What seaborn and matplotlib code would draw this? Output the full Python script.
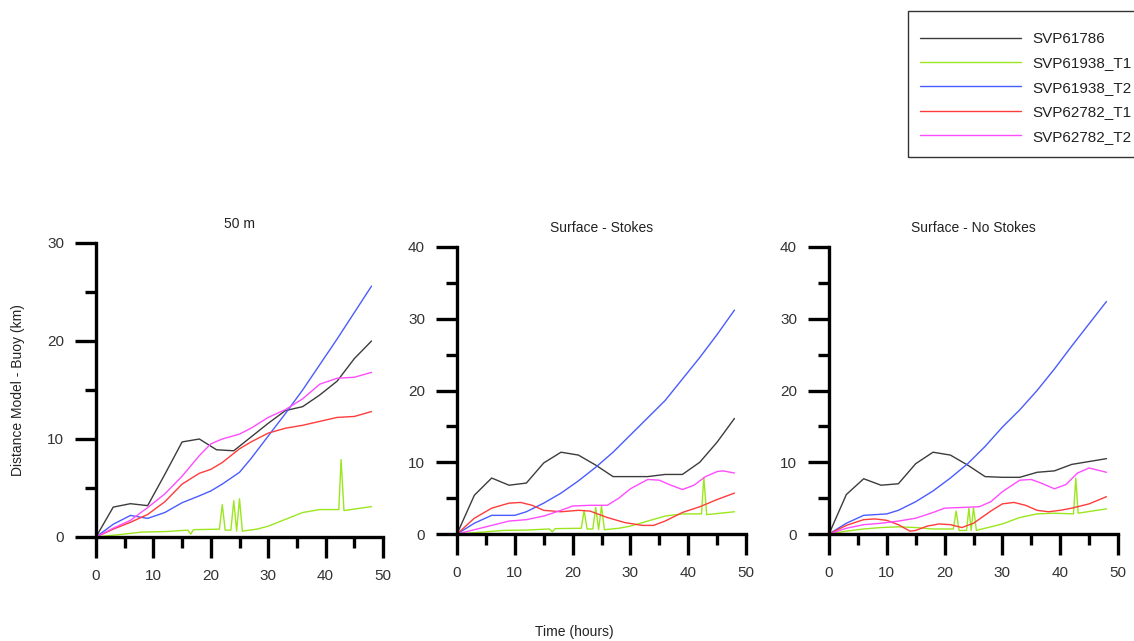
import numpy as np
import pandas as pd
import seaborn as sns
import matplotlib.pyplot as plt
from matplotlib.patches import Rectangle
from matplotlib.lines import Line2D
from matplotlib.ticker import MultipleLocator

# ---- data ----
series_names = ["SVP61786", "SVP61938_T1", "SVP61938_T2", "SVP62782_T1", "SVP62782_T2"]
series_colors = ["#3c3c3c", "#9be61e", "#4a5cff", "#ff3b3b", "#ff4cff"]
panel_titles = ["50 m", "Surface - Stokes", "Surface - No Stokes"]
panel_ymax = [30, 40, 40]

t_black = [0, 3, 6, 9, 12, 15, 18, 21, 24, 27, 30, 33, 36, 39, 42, 45, 48]
t_smooth = [0, 3, 6, 9, 12, 15, 18, 20, 22, 25, 27, 30, 33, 36, 39, 42, 45, 48]

# green buoy has glitches (spikes) in the track
t_green = [0, 5, 8, 12, 16, 16.5, 17, 21.5, 22, 22.5, 23.5, 24, 24.5, 25, 25.5,
           28, 30, 33, 36, 39, 42.3, 42.7, 43.2, 48]
green_a = [0, 0.3, 0.5, 0.55, 0.7, 0.3, 0.75, 0.8, 3.3, 0.7, 0.7, 3.7, 0.6, 3.9, 0.6,
           0.8, 1.1, 1.8, 2.5, 2.8, 2.8, 7.9, 2.7, 3.1]
t_green_c = [0, 3, 6, 9, 12, 15, 18, 21.5, 22, 22.5, 23.8, 24.2, 24.6, 25, 25.5,
             28, 30, 33, 36, 39, 42.3, 42.7, 43.1, 48]
green_c = [0, 0.4, 0.7, 0.9, 1.0, 0.9, 0.7, 0.7, 3.2, 0.5, 0.5, 3.6, 0.5, 3.7, 0.5,
           1.0, 1.4, 2.3, 2.8, 2.9, 2.8, 7.8, 2.9, 3.5]

# panel 1: 50 m
p1_black = [0, 3.05, 3.4, 3.2, 6.4, 9.7, 10.0, 8.9, 8.8, 10.2, 11.6, 12.9, 13.3, 14.5, 15.9, 18.2, 20.0]
p1_blue = [0, 1.3, 2.2, 1.9, 2.5, 3.5, 4.2, 4.7, 5.4, 6.6, 8.0, 10.3, 12.6, 15.0, 17.6, 20.2, 22.9, 25.6]
p1_red = [0, 0.8, 1.5, 2.3, 3.6, 5.4, 6.5, 6.9, 7.6, 9.0, 9.7, 10.6, 11.1, 11.4, 11.8, 12.2, 12.3, 12.8]
p1_magenta = [0, 0.9, 1.7, 3.0, 4.4, 6.2, 8.3, 9.5, 10.0, 10.5, 11.1, 12.2, 13.0, 14.1, 15.6, 16.2, 16.3, 16.8]

# panel 2: surface with Stokes drift
p2_black = [0, 5.4, 7.8, 6.8, 7.1, 9.9, 11.4, 11.0, 9.6, 8.0, 8.0, 8.0, 8.3, 8.3, 10.0, 12.8, 16.1]
t_p2_blue = [0, 3, 6, 10, 12, 15, 18, 21, 24, 27, 30, 33, 36, 39, 42, 45, 48]
p2_blue = [0, 1.5, 2.6, 2.6, 3.1, 4.3, 5.7, 7.4, 9.3, 11.4, 13.8, 16.2, 18.6, 21.6, 24.6, 27.8, 31.2]
t_p2_red = [0, 3, 6, 9, 11, 13, 15, 18, 21, 23, 26, 29, 32, 34, 36, 39, 42, 45, 48]
p2_red = [0, 2.2, 3.6, 4.3, 4.4, 4.0, 3.3, 3.1, 3.3, 3.2, 2.3, 1.6, 1.2, 1.2, 1.8, 3.0, 3.8, 4.8, 5.7]
t_p2_mag = [0, 3, 6, 9, 12, 15, 18, 20, 23, 26, 28, 30, 33, 35, 37, 39, 41, 43, 45, 46, 48]
p2_magenta = [0, 0.6, 1.2, 1.8, 2.0, 2.5, 3.3, 3.9, 4.0, 4.0, 5.0, 6.3, 7.6, 7.5, 6.8, 6.2, 6.8, 8.0, 8.7, 8.8, 8.5]

# panel 3: surface without Stokes drift
p3_black = [0, 5.5, 7.7, 6.8, 7.0, 9.8, 11.4, 11.0, 9.6, 8.0, 7.9, 7.9, 8.6, 8.8, 9.7, 10.1, 10.5]
p3_blue = [0, 1.5, 2.6, 2.8, 3.3, 4.5, 6.0, 7.8, 9.8, 12.2, 14.9, 17.3, 20.0, 23.0, 26.2, 29.3, 32.4]
t_p3_red = [0, 3, 6, 8, 10, 12, 14, 15, 17, 19, 21, 23, 25, 28, 30, 32, 34, 36, 38, 40, 42, 45, 48]
p3_red = [0, 1.2, 2.0, 2.1, 1.9, 1.3, 0.4, 0.5, 1.1, 1.4, 1.3, 0.9, 1.5, 3.2, 4.2, 4.4, 4.0, 3.3, 3.1, 3.3, 3.6, 4.2, 5.2]
t_p3_mag = [0, 3, 6, 9, 12, 15, 18, 20, 23, 26, 28, 30, 33, 35, 37, 39, 41, 43, 45, 48]
p3_magenta = [0, 0.8, 1.3, 1.5, 1.8, 2.2, 3.0, 3.6, 3.7, 3.8, 4.5, 5.9, 7.5, 7.6, 7.0, 6.3, 6.9, 8.5, 9.2, 8.6]

panels = [
    [(t_black, p1_black), (t_green, green_a), (t_smooth, p1_blue), (t_smooth, p1_red), (t_smooth, p1_magenta)],
    [(t_black, p2_black), (t_green, green_a), (t_p2_blue, p2_blue), (t_p2_red, p2_red), (t_p2_mag, p2_magenta)],
    [(t_black, p3_black), (t_green_c, green_c), (t_p2_blue, p3_blue), (t_p3_red, p3_red), (t_p3_mag, p3_magenta)],
]

# ---- style ----
sns.set_style("ticks")
plt.rcParams["font.family"] = ["Liberation Sans", "DejaVu Sans"]
palette = dict(zip(series_names, series_colors))

fig = plt.figure(figsize=(11.34, 6.41), dpi=100)
W, H = 1134, 641
# axes boxes in pixels: (x0, x50, y0, ytop)
boxes = [(96, 383, 537, 243), (457, 746, 534, 247), (829, 1118, 534, 247)]

for i, (x0, x1, y0, y1) in enumerate(boxes):
    ax = fig.add_axes([x0 / W, 1 - y0 / H, (x1 - x0) / W, (y0 - y1) / H])
    rows = []
    for name, (t, d) in zip(series_names, panels[i]):
        rows.append(pd.DataFrame({"t": t, "d": d, "series": name}))
    df = pd.concat(rows, ignore_index=True)
    sns.lineplot(data=df, x="t", y="d", hue="series", palette=palette,
                 estimator=None, sort=False, legend=False, linewidth=1.0, ax=ax)
    ax.set_xlim(0, 50)
    ax.set_ylim(0, panel_ymax[i])
    ax.xaxis.set_major_locator(MultipleLocator(10))
    ax.xaxis.set_minor_locator(MultipleLocator(5))
    ax.yaxis.set_major_locator(MultipleLocator(10))
    ax.yaxis.set_minor_locator(MultipleLocator(5))
    for s in ["top", "right"]:
        ax.spines[s].set_visible(False)
    for s in ["left", "bottom"]:
        ax.spines[s].set_linewidth(2.4)
        ax.spines[s].set_color("black")
    ax.tick_params(which="major", length=15, width=2.4, color="black", pad=8,
                   labelsize=11, labelcolor="#333333")
    ax.tick_params(which="minor", length=8, width=2.4, color="black")
    ax.set_xlabel("")
    ax.set_ylabel("")
    ax.set_title(panel_titles[i], fontsize=10, pad=11, color="#222222")

fig.text(18 / W, 1 - 390 / H, "Distance Model - Buoy (km)", rotation=90,
         ha="center", va="center", fontsize=10, color="#222222")
fig.text(574 / W, 1 - 632 / H, "Time (hours)", ha="center", va="center",
         fontsize=10, color="#222222")

# legend box (runs off the right edge, as in the original)
fig.patches.append(Rectangle((908 / W, 1 - 157 / H), 240 / W, 146 / H,
                             transform=fig.transFigure, fill=False,
                             edgecolor="#333333", linewidth=1.0))
handles = [Line2D([], [], color=c, linewidth=1.0) for c in series_colors]
fig.legend(handles, series_names, loc="upper left",
           bbox_to_anchor=(920 / W, 1 - 32 / H), frameon=False, fontsize=11,
           handlelength=6.6, handletextpad=0.75, labelspacing=0.68,
           borderpad=0, borderaxespad=0, labelcolor="#222222")

plt.savefig("out.png", dpi=100)
